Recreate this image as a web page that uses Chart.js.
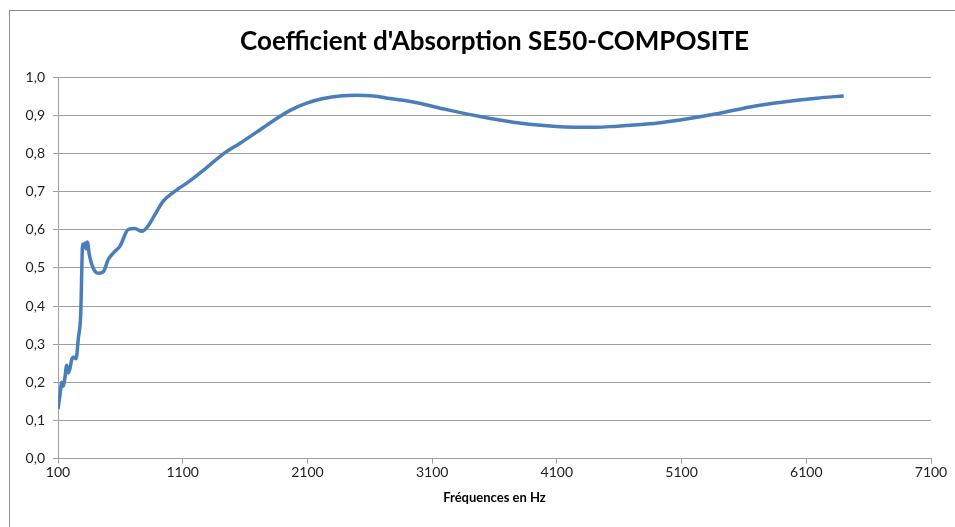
<!DOCTYPE html>
<meta charset="utf-8" />
<title>Coefficient d'Absorption SE50-COMPOSITE</title>
<script src="https://cdn.jsdelivr.net/npm/chart.js@4/dist/chart.umd.min.js"></script>
<style>
body {
	margin: 0;
	background: #fff;
}
.chart {
	width: 955px;
	height: 527px;
}
</style>

<div class="chart"><canvas id="c"></canvas></div>

<script>
// frequencies (Hz) and absorption coefficient
const frequencies = [100, 116, 130, 143, 156, 170, 183, 196, 210, 223, 245, 263, 282, 298, 310, 317, 325, 335, 351, 383, 423, 463, 503, 543, 597, 664, 717, 771, 811, 878, 944, 1025, 1158, 1292, 1426, 1560, 1693, 1827, 1961, 2094, 2228, 2361, 2495, 2629, 2762, 2949, 3217, 3484, 3751, 4019, 4286, 4420, 4553, 4821, 5088, 5382, 5649, 5916, 6184, 6400];
const absorption = [0.13, 0.166, 0.20, 0.19, 0.213, 0.245, 0.225, 0.236, 0.26, 0.266, 0.262, 0.315, 0.377, 0.562, 0.555, 0.565, 0.55, 0.568, 0.535, 0.499, 0.486, 0.49, 0.522, 0.539, 0.557, 0.601, 0.603, 0.596, 0.605, 0.640, 0.675, 0.698, 0.728, 0.763, 0.799, 0.827, 0.856, 0.886, 0.913, 0.932, 0.944, 0.951, 0.953, 0.951, 0.944, 0.935, 0.915, 0.897, 0.882, 0.873, 0.869, 0.869, 0.871, 0.877, 0.888, 0.904, 0.922, 0.935, 0.945, 0.951];

const xTicks = [100, 1100, 2100, 3100, 4100, 5100, 6100, 7100];
const yTicks = [0, 0.1, 0.2, 0.3, 0.4, 0.5, 0.6, 0.7, 0.8, 0.9, 1.0];

const titleText = "Coefficient d'Absorption SE50-COMPOSITE";
const xTitle = 'Fréquences en Hz';

const fontFamily = "Lato, 'Open Sans', sans-serif";
const gridColor = '#a0a0a0';

// outer frame like the spreadsheet chart border
const frame = {
	id: 'frame',
	beforeDraw(chart) {
		const ctx = chart.ctx;
		ctx.save();
		ctx.fillStyle = '#fff';
		ctx.fillRect(0, 0, chart.width, chart.height);
		ctx.strokeStyle = '#8c8c8c';
		ctx.lineWidth = 1;
		ctx.strokeRect(9.5, 10.5, chart.width + 10, chart.height + 10);
		ctx.restore();
	}
};

new Chart(document.getElementById('c'), {
	type: 'line',
	data: {
		datasets: [{
			data: frequencies.map((f, i) => ({x: f, y: absorption[i]})),
			borderColor: '#4a7ebb',
			borderWidth: 3.5,
			pointRadius: 0,
			cubicInterpolationMode: 'monotone',
			fill: false,
		}]
	},
	options: {
		animation: false,
		responsive: true,
		maintainAspectRatio: false,
		layout: {
			padding: {left: 0, right: 24, top: 26, bottom: 0}
		},
		plugins: {
			legend: {display: false},
			tooltip: {enabled: false},
			title: {
				display: true,
				fullSize: false,
				text: titleText,
				color: '#000',
				font: {family: fontFamily, size: 26, weight: 'bold'},
				padding: {top: 0, bottom: 20}
			}
		},
		scales: {
			x: {
				type: 'linear',
				min: 100,
				max: 7100,
				afterBuildTicks: s => { s.ticks = xTicks.map(v => ({value: v})); },
				ticks: {
					color: '#222',
					font: {family: fontFamily, size: 14},
					maxRotation: 0,
					padding: 0,
					callback: v => String(v)
				},
				grid: {
					display: true,
					drawOnChartArea: false,
					drawTicks: true,
					tickLength: 5,
					color: gridColor
				},
				border: {color: gridColor, width: 1},
				title: {
					display: true,
					text: xTitle,
					color: '#000',
					font: {family: fontFamily, size: 13, weight: 'bold'},
					padding: {top: 10, bottom: 21}
				}
			},
			y: {
				min: 0,
				max: 1,
				afterBuildTicks: s => { s.ticks = yTicks.map(v => ({value: v})); },
				afterFit: s => { s.width = 58; },
				ticks: {
					color: '#222',
					font: {family: fontFamily, size: 14},
					padding: 8,
					callback: v => v.toFixed(1).replace('.', ',')
				},
				grid: {
					color: gridColor,
					lineWidth: 1,
					tickLength: 5
				},
				border: {color: gridColor, width: 1}
			}
		}
	},
	plugins: [frame]
});
</script>
